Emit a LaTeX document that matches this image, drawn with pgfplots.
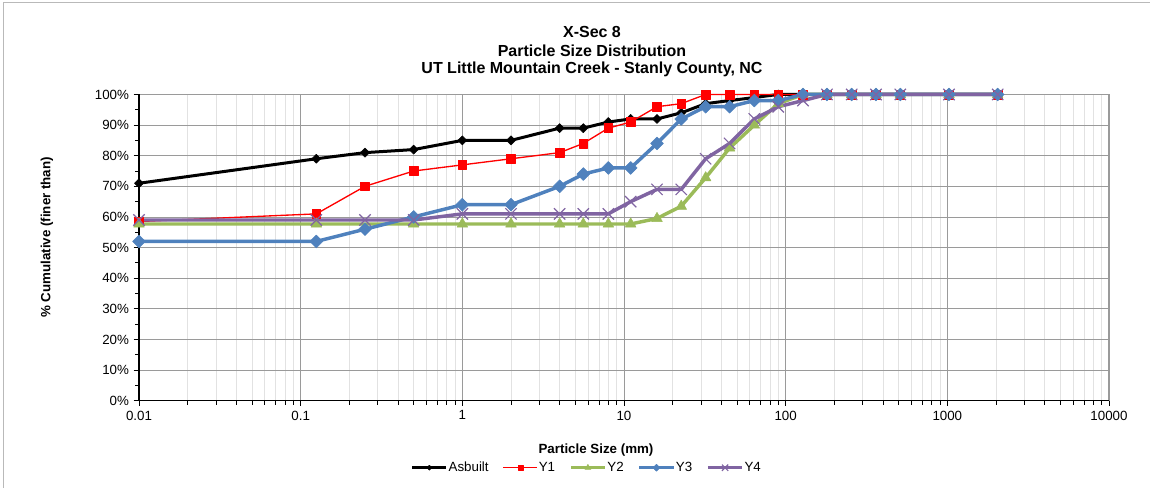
\documentclass[border=0pt]{standalone}
\usepackage{fontspec}
\setmainfont{Liberation Sans}
\usepackage{pgfplots}
\pgfplotsset{compat=1.18}
\usepackage{pgfplotstable}
\definecolor{xgreen}{HTML}{9BBB59}
\definecolor{xblue}{HTML}{4F81BD}
\definecolor{xpurple}{HTML}{8064A2}
\definecolor{majgrid}{HTML}{9A9A9A}
\definecolor{mingrid}{HTML}{E2E2E2}

\pgfplotstableread{
x y
0.01 71
0.125 79
0.25 81
0.5 82
1 85
2 85
4 89
5.6 89
8 91
11 92
16 92
22.6 94
32 97
45 98
64 99
90 100
128 100
180 100
256 100
362 100
512 100
1024 100
2048 100
}\asbuilt

\pgfplotstableread{
x y
0.01 58.5
0.125 61
0.25 70
0.5 75
1 77
2 79
4 81
5.6 84
8 89
11 91
16 96
22.6 97
32 100
45 100
64 100
90 100
128 100
180 100
256 100
362 100
512 100
1024 100
2048 100
}\yone

\pgfplotstableread{
x y
0.01 57.7
0.125 57.7
0.5 57.7
1 57.7
2 57.7
4 57.7
5.6 57.7
8 57.7
11 57.7
16 59.5
22.6 63.5
32 72.8
45 82.5
64 90
90 97
128 100
180 100
256 100
362 100
512 100
1024 100
2048 100
}\ytwo

\pgfplotstableread{
x y
0.01 52
0.125 52
0.25 56
0.5 60
1 64
2 64
4 70
5.6 74
8 76
11 76
16 84
22.6 92
32 96
45 96
64 98
90 98
128 100
180 100
256 100
362 100
512 100
1024 100
2048 100
}\ythree

\pgfplotstableread{
x y
0.01 59
0.125 59
0.25 59
0.5 59
1 61
2 61
4 61
5.6 61
8 61
11 65
16 69
22.6 69
32 79
45 84
64 92
90 96
128 98
180 100
256 100
362 100
512 100
1024 100
2048 100
}\yfour

\begin{document}
\begin{tikzpicture}
\path[use as bounding box] (-104.25pt,-65.5pt) rectangle (758.25pt,300.5pt);
\draw[gray!55, line width=0.8pt] (-101.8pt,-66pt) -- (-101.8pt,298.3pt) -- (760pt,298.3pt);
\begin{axis}[
  at={(0,0)}, anchor=south west,
  scale only axis, width=727.5pt, height=229.65pt,
  xmode=log, xmin=0.01, xmax=10000, ymin=0, ymax=100,
  clip=false,
  xtick={0.01,0.1,1,10,100,1000,10000},
  xticklabels={0.01,0.1,1,10,100,1000,10000},
  minor xtick={0.02,0.03,0.04,0.05,0.06,0.07,0.08,0.09,
    0.2,0.3,0.4,0.5,0.6,0.7,0.8,0.9,
    2,3,4,5,6,7,8,9,
    20,30,40,50,60,70,80,90,
    200,300,400,500,600,700,800,900,
    2000,3000,4000,5000,6000,7000,8000,9000},
  ytick={0,10,...,100},
  minor ytick={5,15,...,95},
  yticklabel={\pgfmathprintnumber{\tick}\%},
  /pgf/number format/assume math mode=true,
  tick label style={font=\fontsize{10}{12}\selectfont, black},
  tick pos=left, tick align=outside,
  major tick length=4pt, minor tick length=3pt,
  tick style={black, line width=0.6pt},
  xmajorgrids, xminorgrids, ymajorgrids,
  major grid style={majgrid, line width=0.6pt},
  minor grid style={mingrid, line width=0.6pt},
  axis line style={draw=majgrid, line width=0.8pt},
  legend columns=5,
  legend style={at={(0.461,-0.219)}, anchor=center, draw=none, fill=none,
    font=\fontsize{10}{12}\selectfont, inner sep=0pt,
    nodes={inner xsep=0.5pt, inner ysep=1pt},
    /tikz/every odd column/.append style={column sep=0pt},
    /tikz/every even column/.append style={column sep=10pt}},
  legend image code/.code={\draw[mark repeat=2,mark phase=2] plot coordinates {(0cm,0cm) (0.45cm,0cm) (0.9cm,0cm)};},
  legend image post style={/tikz/every mark/.append style={scale=0.55}},
  every axis plot/.append style={line join=round},
]
\draw[black, line width=0.8pt] (rel axis cs:0,1) -- (rel axis cs:0,0) -- (rel axis cs:1,0);
\addplot[black, line width=2.25pt, mark=square*, mark size=2.4pt,
  mark options={solid, rotate=45, line width=0.4pt, fill=black}] table {\asbuilt};
\addlegendentry{Asbuilt}
\addplot[red, line width=1pt, mark=square*, mark size=3.3pt,
  mark options={solid, line width=0.4pt, fill=red}] table {\yone};
\addlegendentry{Y1}
\addplot[xgreen, line width=2.6pt, mark=triangle*, mark size=4.6pt,
  mark options={solid, line width=0.4pt, fill=xgreen}] table {\ytwo};
\addlegendentry{Y2}
\addplot[xblue, line width=2.6pt, mark=square*, mark size=3.4pt,
  mark options={solid, rotate=45, line width=0.4pt, fill=xblue}] table {\ythree};
\addlegendentry{Y3}
\addplot[xpurple, line width=2.6pt, mark=x, mark size=6pt,
  mark options={solid, line width=0.9pt, draw=xpurple}] table {\yfour};
\addlegendentry{Y4}
\end{axis}
\node[font=\bfseries\fontsize{12}{14}\selectfont] at (339.75pt,276.5pt) {X-Sec 8};
\node[font=\bfseries\fontsize{12}{14}\selectfont] at (339.75pt,262.5pt) {Particle Size Distribution};
\node[font=\bfseries\fontsize{12}{14}\selectfont] at (339.75pt,248.5pt) {UT Little Mountain Creek - Stanly County, NC};
\node[font=\bfseries\fontsize{10}{12}\selectfont, rotate=90] at (-69pt,122.4pt) {\% Cumulative (finer than)};
\node[font=\bfseries\fontsize{10}{12}\selectfont] at (342.75pt,-37pt) {Particle Size (mm)};
\end{tikzpicture}
\end{document}
